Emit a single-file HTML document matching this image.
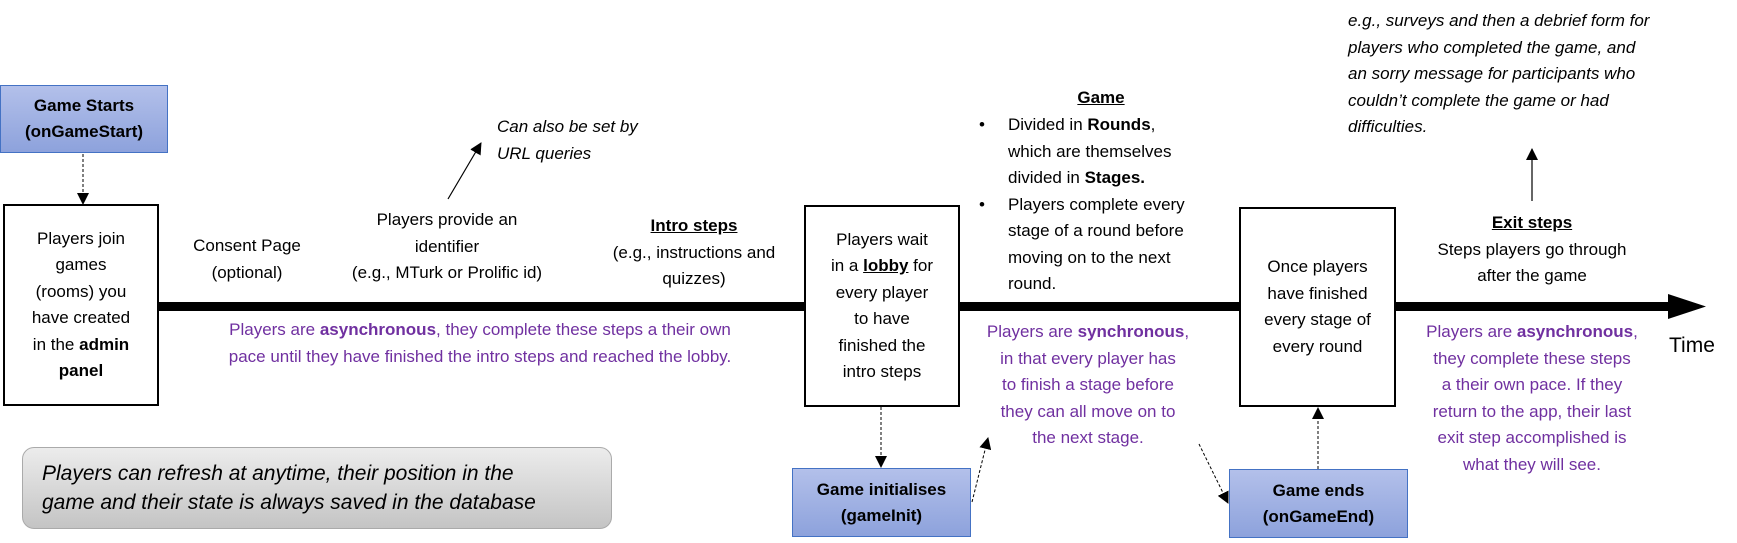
<!DOCTYPE html>
<html><head><meta charset="utf-8"><style>
body{margin:0;width:1737px;height:543px;background:#fff;position:relative;overflow:hidden;font-family:"Liberation Sans",sans-serif;color:#000}
.a{position:absolute;font-size:17px;line-height:26.5px;text-align:center;white-space:nowrap}
.p{color:#7030a0}
.i{font-style:italic;text-align:left}
.box{position:absolute;border:2px solid #000;box-sizing:border-box;background:#fff;display:flex;align-items:center;justify-content:center;text-align:center;font-size:17px;line-height:26.5px}
.blue{position:absolute;box-sizing:border-box;border:1.5px solid #4472c4;background:linear-gradient(#b3c0ea,#8da2dc);display:flex;align-items:center;justify-content:center;text-align:center;font-weight:bold;font-size:17px;line-height:26px}
.box>div,.blue>div{white-space:nowrap}
u{text-decoration:underline}
</style></head><body>
<svg width="1737" height="543" style="position:absolute;left:0;top:0">
<defs><marker id="m2" markerWidth="12" markerHeight="12" refX="11" refY="6" orient="auto" markerUnits="userSpaceOnUse"><path d="M0,0L12,6L0,12z" fill="#000"/></marker></defs>
<rect x="159" y="302" width="1510" height="9" fill="#000"/>
<path d="M1668,294L1706,306.5L1668,319z" fill="#000"/>
<line x1="83" y1="154" x2="83" y2="204" stroke="#000" stroke-dasharray="3,2" marker-end="url(#m2)"/>
<line x1="448" y1="199" x2="481" y2="143" stroke="#000" stroke-width="1.2" marker-end="url(#m2)"/>
<line x1="881" y1="407" x2="881" y2="467" stroke="#000" stroke-dasharray="3,2" marker-end="url(#m2)"/>
<line x1="972" y1="502" x2="988" y2="438" stroke="#000" stroke-dasharray="3,2" marker-end="url(#m2)"/>
<line x1="1199" y1="444" x2="1228" y2="503" stroke="#000" stroke-dasharray="3,2" marker-end="url(#m2)"/>
<line x1="1318" y1="469" x2="1318" y2="408" stroke="#000" stroke-dasharray="3,2" marker-end="url(#m2)"/>
<line x1="1532" y1="201" x2="1532" y2="149" stroke="#000" stroke-width="1.2" marker-end="url(#m2)"/>
</svg>
<div class="blue" style="left:0;top:85px;width:168px;height:68px"><div>Game Starts<br>(onGameStart)</div></div>
<div class="box" style="left:3px;top:204px;width:156px;height:202px"><div>Players join<br>games<br>(rooms) you<br>have created<br>in the <b>admin</b><br><b>panel</b></div></div>
<div class="a" style="left:147px;top:233px;width:200px">Consent Page<br>(optional)</div>
<div class="a" style="left:307px;top:207px;width:280px">Players provide an<br>identifier<br>(e.g., MTurk or Prolific id)</div>
<div class="a" style="left:584px;top:213px;width:220px"><b><u>Intro steps</u></b><br>(e.g., instructions and<br>quizzes)</div>
<div class="a i" style="left:497px;top:114px">Can also be set by<br>URL queries</div>
<div class="a p" style="left:170px;top:317px;width:620px">Players are <b>asynchronous</b>, they complete these steps a their own<br>pace until they have finished the intro steps and reached the lobby.</div>
<div style="position:absolute;left:22px;top:447px;width:590px;height:82px;box-sizing:border-box;border:1px solid #aaa;border-radius:12px;background:linear-gradient(#ececec,#c4c4c4)"></div>
<div class="a i" style="left:42px;top:459px;font-size:21px;line-height:29px">Players can refresh at anytime, their position in the<br>game and their state is always saved in the database</div>
<div class="box" style="left:804px;top:205px;width:156px;height:202px"><div>Players wait<br>in a <b><u>lobby</u></b> for<br>every player<br>to have<br>finished the<br>intro steps</div></div>
<div class="blue" style="left:792px;top:468px;width:179px;height:69px"><div>Game initialises<br>(gameInit)</div></div>
<div class="a" style="left:1001px;top:85px;width:200px"><b><u>Game</u></b></div>
<div class="a" style="left:979px;top:112px;text-align:left">•<br><br><br>•</div>
<div class="a" style="left:1008px;top:112px;text-align:left">Divided in <b>Rounds</b>,<br>which are themselves<br>divided in <b>Stages.</b><br>Players complete every<br>stage of a round before<br>moving on to the next<br>round.</div>
<div class="a p" style="left:968px;top:319px;width:240px">Players are <b>synchronous</b>,<br>in that every player has<br>to finish a stage before<br>they can all move on to<br>the next stage.</div>
<div class="box" style="left:1239px;top:207px;width:157px;height:200px"><div>Once players<br>have finished<br>every stage of<br>every round</div></div>
<div class="blue" style="left:1229px;top:469px;width:179px;height:69px"><div>Game ends<br>(onGameEnd)</div></div>
<div class="a" style="left:1412px;top:210px;width:240px"><b><u>Exit steps</u></b><br>Steps players go through<br>after the game</div>
<div class="a p" style="left:1407px;top:319px;width:250px">Players are <b>asynchronous</b>,<br>they complete these steps<br>a their own pace. If they<br>return to the app, their last<br>exit step accomplished is<br>what they will see.</div>
<div class="a" style="left:1669px;top:333px;font-size:21px">Time</div>
<div class="a i" style="left:1348px;top:8px">e.g., surveys and then a debrief form for<br>players who completed the game, and<br>an sorry message for participants who<br>couldn’t complete the game or had<br>difficulties.</div>
</body></html>
